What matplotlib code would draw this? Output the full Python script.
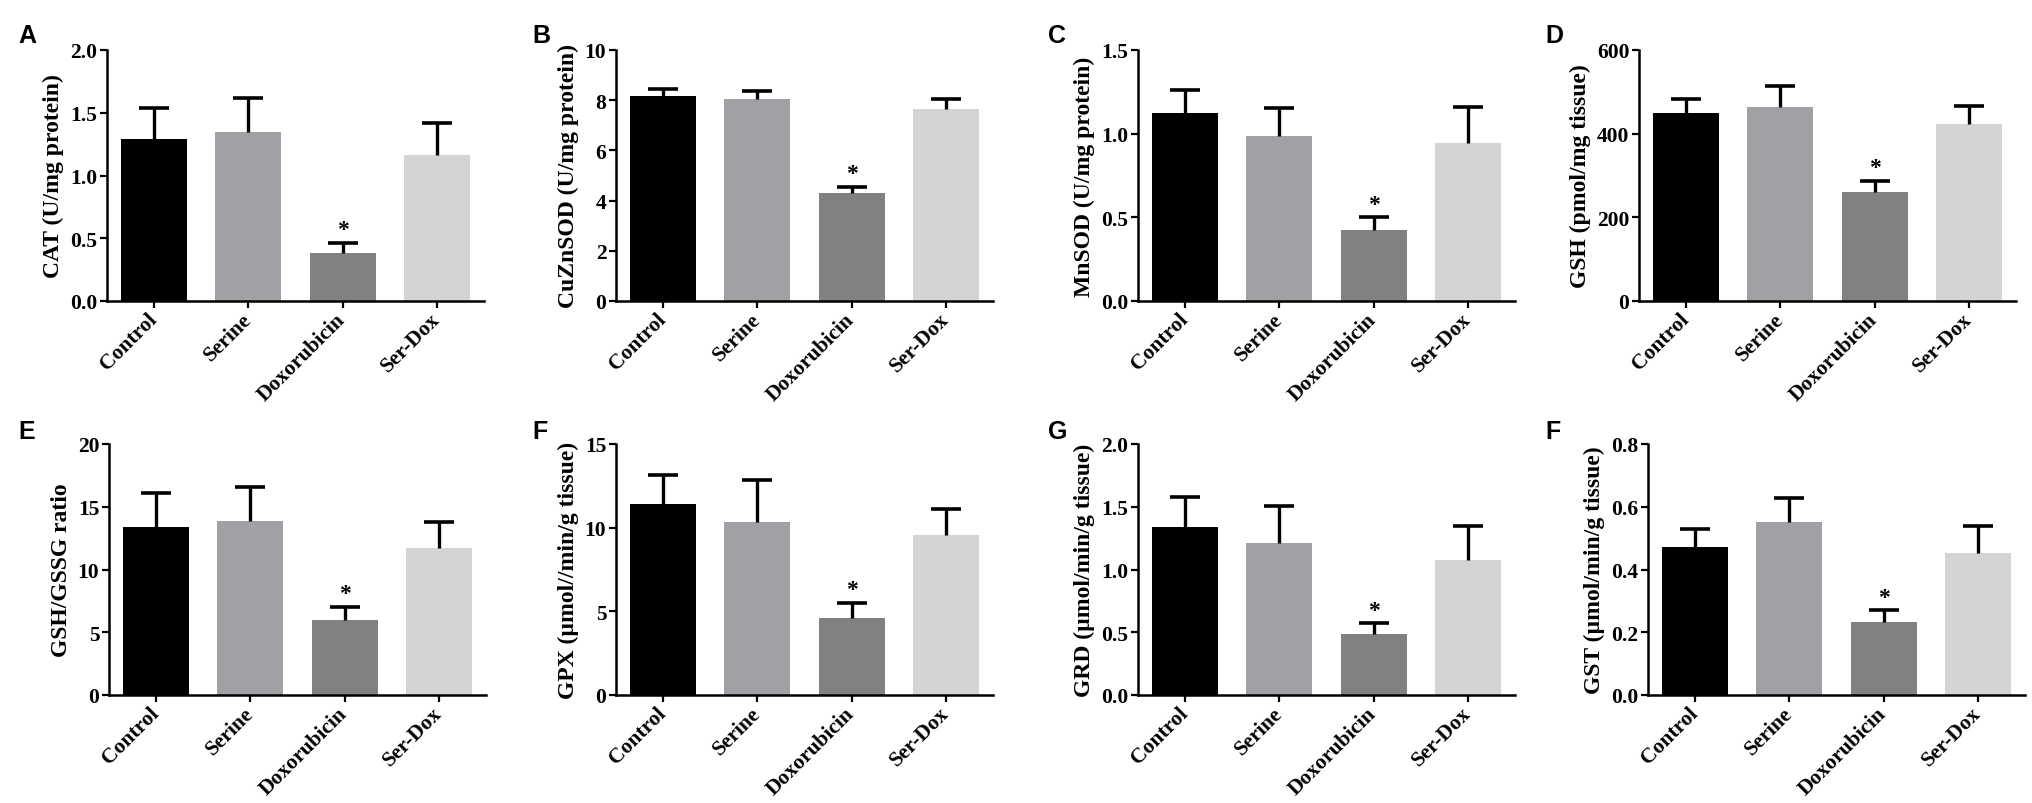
import matplotlib
matplotlib.use('Agg')
import matplotlib.pyplot as plt

groups = ['Control', 'Serine', 'Doxorubicin', 'Ser-Dox']
colors = ['#000000', '#a0a1a4', '#808180', '#d4d4d4']

cat_mean = [1.29, 1.35, 0.38, 1.165]
cat_sem = [0.25, 0.265, 0.08, 0.255]
cuznsod_mean = [8.17, 8.06, 4.29, 7.65]
cuznsod_sem = [0.28, 0.31, 0.25, 0.40]
mnsod_mean = [1.124, 0.986, 0.426, 0.942]
mnsod_sem = [0.139, 0.166, 0.074, 0.218]
gsh_mean = [449, 464, 261, 423]
gsh_sem = [34, 49, 27, 42]
ratio_mean = [13.41, 13.86, 5.98, 11.71]
ratio_sem = [2.66, 2.74, 1.03, 2.07]
gpx_mean = [11.41, 10.34, 4.60, 9.54]
gpx_sem = [1.76, 2.51, 0.92, 1.58]
grd_mean = [1.339, 1.214, 0.484, 1.076]
grd_sem = [0.241, 0.294, 0.087, 0.273]
gst_mean = [0.472, 0.552, 0.233, 0.453]
gst_sem = [0.058, 0.077, 0.037, 0.086]

panels = [
    ('A', 'CAT (U/mg protein)', cat_mean, cat_sem, [0, 0.5, 1.0, 1.5, 2.0], '{:.1f}'),
    ('B', 'CuZnSOD (U/mg protein)', cuznsod_mean, cuznsod_sem, [0, 2, 4, 6, 8, 10], '{:.0f}'),
    ('C', 'MnSOD (U/mg protein)', mnsod_mean, mnsod_sem, [0, 0.5, 1.0, 1.5], '{:.1f}'),
    ('D', 'GSH (pmol/mg tissue)', gsh_mean, gsh_sem, [0, 200, 400, 600], '{:.0f}'),
    ('E', 'GSH/GSSG ratio', ratio_mean, ratio_sem, [0, 5, 10, 15, 20], '{:.0f}'),
    ('F', 'GPX (\u00b5mol//min/g tissue)', gpx_mean, gpx_sem, [0, 5, 10, 15], '{:.0f}'),
    ('G', 'GRD (\u00b5mol/min/g tissue)', grd_mean, grd_sem, [0, 0.5, 1.0, 1.5, 2.0], '{:.1f}'),
    ('F', 'GST (\u00b5mol/min/g tissue)', gst_mean, gst_sem, [0, 0.2, 0.4, 0.6, 0.8], '{:.1f}'),
]

W, H = 2033, 804
axes_left = [107, 616, 1138, 1639, 109, 616, 1138, 1648]
axes_bottom = [302, 302, 302, 302, 696, 696, 696, 696]
axes_w = 377
axes_h = 251
letter_x = [18, 532, 1048, 1545, 18, 532, 1048, 1545]
letter_top = [24, 24, 24, 24, 420, 420, 420, 420]

serif = ['Liberation Serif', 'DejaVu Serif']

fig = plt.figure(figsize=(W / 100, H / 100), dpi=100)

for i, (letter, ylabel, mean, sem, ticks, fmt) in enumerate(panels):
    ax = fig.add_axes([axes_left[i] / W, 1 - axes_bottom[i] / H, axes_w / W, axes_h / H])
    x = range(len(groups))
    ax.bar(x, mean, width=0.7, color=colors, zorder=2)
    eb = ax.errorbar(x, mean, yerr=[[0] * len(sem), sem], fmt='none', ecolor='black',
                     elinewidth=2.4, capsize=10.5, capthick=2.6, zorder=3)
    eb[1][0].set_visible(False)  # only the upper cap, like the original
    # significance marker over Doxorubicin
    ax.annotate('*', (2, mean[2] + sem[2]), xytext=(0, 2), textcoords='offset points',
                ha='center', va='bottom', fontsize=17, fontweight='bold', family=serif)

    ax.set_xlim(-0.5, 3.5)
    ax.set_ylim(0, ticks[-1])
    ax.set_yticks(ticks)
    ax.set_yticklabels([fmt.format(t) for t in ticks])
    ax.set_xticks(list(x))
    ax.set_xticklabels(groups, rotation=45, ha='right', va='center', rotation_mode='anchor')
    for lab in ax.get_xticklabels() + ax.get_yticklabels():
        lab.set_family(serif)
        lab.set_fontweight('bold')
        lab.set_fontsize(15.5)
    ax.set_ylabel(ylabel, family=serif, fontweight='bold', fontsize=17, labelpad=4)

    ax.spines['top'].set_visible(False)
    ax.spines['right'].set_visible(False)
    ax.spines['left'].set_linewidth(1.8)
    ax.spines['bottom'].set_linewidth(1.8)
    ax.tick_params(axis='both', direction='out', length=5, width=1.6, pad=2)
    ax.tick_params(axis='x', pad=6)

    fig.text(letter_x[i] / W, 1 - letter_top[i] / H, letter, ha='left', va='top',
             fontsize=18, fontweight='bold', family=['Liberation Sans', 'DejaVu Sans'])

fig.savefig('out.png', dpi=100)
